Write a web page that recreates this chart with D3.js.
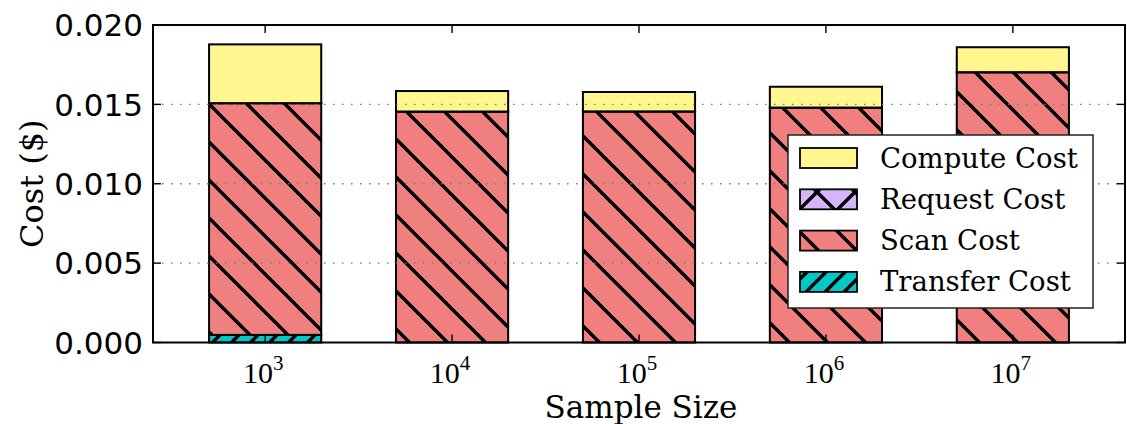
<!DOCTYPE html>
<html lang="en">
<head>
  <meta charset="UTF-8">
  <title>Cost by Sample Size</title>
  <script src="https://d3js.org/d3.v7.min.js"></script>
  <style>
    body { margin: 0; background: #fff; }
    svg { display: block; }
  </style>
</head>
<body>
  <svg width="1127" height="424"></svg>

  <script>
    // data
    const exponents = ["3", "4", "5", "6", "7"];
    const transferCost = [0.00048, 0, 0, 0, 0];
    const scanCost     = [0.01459, 0.01454, 0.01455, 0.01479, 0.01702];
    const requestCost  = [0.00001, 0.00001, 0.00001, 0.00001, 0.00001];
    const computeCost  = [0.00370, 0.00129, 0.00122, 0.00131, 0.00157];
    const yTicks = [0, 0.005, 0.010, 0.015, 0.020];

    const series = [
      { name: "Transfer Cost", values: transferCost, color: "#00c8c8", hatch: "hatchTransfer" },
      { name: "Scan Cost",     values: scanCost,     color: "#f08080", hatch: "hatchScan" },
      { name: "Request Cost",  values: requestCost,  color: "#d6b4fa", hatch: "hatchRequest" },
      { name: "Compute Cost",  values: computeCost,  color: "#fff68f", hatch: null }
    ];

    const SERIF = "'DejaVu Serif', serif";
    const svg = d3.select("svg");
    const m = { left: 153, right: 1125, top: 25, bottom: 342.5 };

    const x = d3.scaleLinear().domain([-0.6, 4.6]).range([m.left, m.right]);
    const y = d3.scaleLinear().domain([0, 0.020]).range([m.bottom, m.top]);
    const barW = x(0.6) - x(0);

    // hatch patterns
    const defs = svg.append("defs");
    function lineHatch(id, period, dir, offset) {
      const p = defs.append("pattern")
        .attr("id", id)
        .attr("patternUnits", "userSpaceOnUse")
        .attr("width", period).attr("height", period)
        .attr("x", offset);
      const draw = d => p.append("path").attr("d", d)
        .attr("stroke", "#000").attr("stroke-width", 3.4).attr("fill", "none");
      if (dir === "back" || dir === "x") {
        draw(`M${-period},0L${period},${2 * period}M0,${-period}L${2 * period},${period}M${-period / 2},${-period / 2}L${period * 1.5},${period * 1.5}`);
      }
      if (dir === "fwd" || dir === "x") {
        draw(`M0,${period}L${period},0M${-period / 2},${period / 2}L${period / 2},${-period / 2}M${period / 2},${period * 1.5}L${period * 1.5},${period / 2}`);
      }
    }
    lineHatch("hatchScan", 38, "back", 29);
    lineHatch("hatchTransfer", 19, "fwd", 4);
    lineHatch("hatchRequest", 38, "x", 10);

    // stacked bars
    const stacked = d3.stack().keys(d3.range(series.length))
      .value((d, k) => series[k].values[d])(d3.range(exponents.length));

    const gBars = svg.append("g");
    stacked.forEach((layer, k) => {
      const s = series[k];
      layer.forEach((seg, i) => {
        if (s.values[i] <= 0) return;
        const x0 = x(i) - barW / 2;
        const yTop = y(seg[1]), h = y(seg[0]) - y(seg[1]);
        gBars.append("rect")
          .attr("x", x0).attr("y", yTop).attr("width", barW).attr("height", h)
          .attr("fill", s.color);
        if (s.hatch) {
          gBars.append("rect")
            .attr("x", x0).attr("y", yTop).attr("width", barW).attr("height", h)
            .attr("fill", `url(#${s.hatch})`);
        }
        gBars.append("rect")
          .attr("x", x0).attr("y", yTop).attr("width", barW).attr("height", h)
          .attr("fill", "none").attr("stroke", "#000").attr("stroke-width", 2);
      });
    });

    // dotted grid, drawn over bars like the original
    svg.append("g").selectAll("line")
      .data(yTicks.slice(1, -1))
      .join("line")
        .attr("x1", m.left).attr("x2", m.right)
        .attr("y1", d => y(d)).attr("y2", d => y(d))
        .attr("stroke", "#777").attr("stroke-width", 1.3)
        .attr("stroke-dasharray", "1.5,7.5");

    // ticks (inward, on all four sides)
    const tk = svg.append("g").attr("stroke", "#000").attr("stroke-width", 1.4);
    yTicks.forEach(t => {
      tk.append("line").attr("x1", m.left).attr("x2", m.left + 8).attr("y1", y(t)).attr("y2", y(t));
      tk.append("line").attr("x1", m.right).attr("x2", m.right - 8).attr("y1", y(t)).attr("y2", y(t));
    });
    exponents.forEach((e, i) => {
      tk.append("line").attr("x1", x(i)).attr("x2", x(i)).attr("y1", m.bottom).attr("y2", m.bottom - 8);
      tk.append("line").attr("x1", x(i)).attr("x2", x(i)).attr("y1", m.top).attr("y2", m.top + 8);
    });

    // frame
    svg.append("rect")
      .attr("x", m.left).attr("y", m.top)
      .attr("width", m.right - m.left).attr("height", m.bottom - m.top)
      .attr("fill", "none").attr("stroke", "#000").attr("stroke-width", 2);

    // y tick labels
    svg.append("g").selectAll("text")
      .data(yTicks)
      .join("text")
        .attr("x", m.left - 10).attr("y", d => y(d))
        .attr("dy", "0.36em")
        .attr("text-anchor", "end")
        .style("font-family", "'DejaVu Sans', sans-serif")
        .style("font-size", "31px")
        .attr("fill", "#000")
        .text(d => d3.format(".3f")(d));

    // x tick labels: 10^n
    const xl = svg.append("g").selectAll("text")
      .data(exponents)
      .join("text")
        .attr("x", (d, i) => x(i) - 2).attr("y", 383)
        .attr("text-anchor", "middle")
        .style("font-family", "'Liberation Serif', serif")
        .style("font-size", "30px")
        .attr("fill", "#000");
    xl.append("tspan").text("10");
    xl.append("tspan").attr("dy", -13).style("font-size", "21px").text(d => d);

    // axis titles
    svg.append("text")
      .attr("x", (m.left + m.right) / 2 + 2).attr("y", 418)
      .attr("text-anchor", "middle")
      .style("font-family", SERIF)
      .style("font-size", "31px")
      .text("Sample Size");

    svg.append("text")
      .attr("transform", `translate(43,${(m.top + m.bottom) / 2}) rotate(-90)`)
      .attr("text-anchor", "middle")
      .style("font-family", SERIF)
      .style("font-size", "32px")
      .text("Cost ($)");

    // legend
    const legendItems = series.slice().reverse();
    const lg = svg.append("g").attr("transform", "translate(788,135)");
    lg.append("rect")
      .attr("width", 305).attr("height", 173)
      .attr("fill", "#fff").attr("stroke", "#222").attr("stroke-width", 1.5);
    legendItems.forEach((s, i) => {
      const cy = 23 + i * 41.3;
      const row = lg.append("g");
      row.append("rect").attr("x", 12).attr("y", cy - 10).attr("width", 57).attr("height", 20)
        .attr("fill", s.color);
      if (s.hatch) {
        row.append("rect").attr("x", 12).attr("y", cy - 10).attr("width", 57).attr("height", 20)
          .attr("fill", `url(#${s.hatch})`);
      }
      row.append("rect").attr("x", 12).attr("y", cy - 10).attr("width", 57).attr("height", 20)
        .attr("fill", "none").attr("stroke", "#000").attr("stroke-width", 1.8);
      row.append("text")
        .attr("x", 92).attr("y", cy + 9.5)
        .style("font-family", SERIF)
        .style("font-size", "27.5px")
        .text(s.name);
    });
  </script>
</body>
</html>
